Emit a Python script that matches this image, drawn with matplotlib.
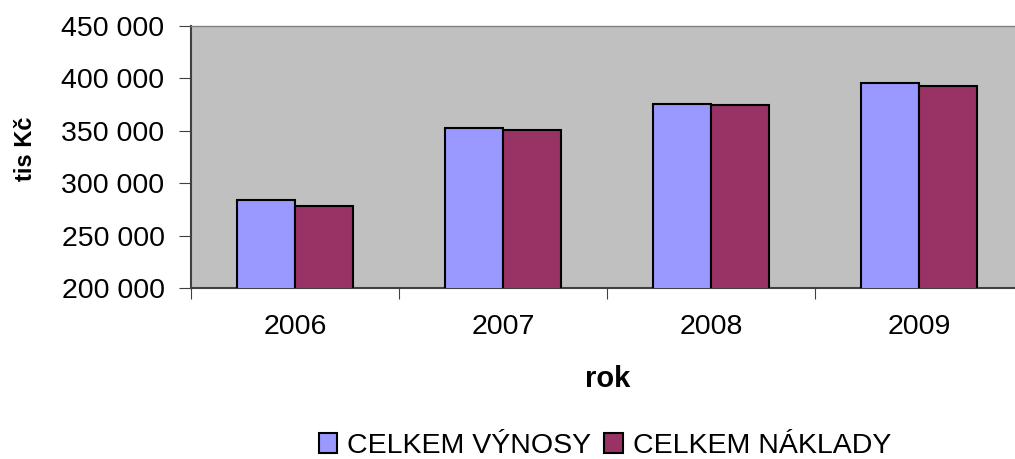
import matplotlib.pyplot as plt
import numpy as np
from matplotlib.ticker import FuncFormatter, FixedLocator

years = ["2006", "2007", "2008", "2009"]
vynosy = [283700, 352700, 375300, 395900]
naklady = [278000, 350700, 375000, 392500]

plt.rcParams['font.family'] = ['Liberation Sans', 'DejaVu Sans']

fig = plt.figure(figsize=(10.15, 4.59), dpi=100)
ax = fig.add_axes([191/1015, 1 - 288/459, 832/1015, 262/459])
ax.set_facecolor('#c0c0c0')

x = np.arange(len(years))
w = 0.28
ax.bar(x - w/2, vynosy, w, color='#9999ff', edgecolor='black', linewidth=1.5,
       label='CELKEM VÝNOSY', zorder=3)
ax.bar(x + w/2, naklady, w, color='#993366', edgecolor='black', linewidth=1.5,
       label='CELKEM NÁKLADY', zorder=3)

ax.set_xlim(-0.5, 3.5)
ax.set_ylim(200000, 450000)
ax.set_yticks(np.arange(200000, 450001, 50000))
ax.yaxis.set_major_formatter(FuncFormatter(lambda v, p: f"{int(v):,}".replace(",", " ")))
ax.xaxis.set_major_locator(FixedLocator([-0.5, 0.5, 1.5, 2.5, 3.5]))
ax.xaxis.set_major_formatter(FuncFormatter(lambda v, p: ""))
ax.xaxis.set_minor_locator(FixedLocator(x))
ax.set_xticklabels(years, minor=True)
ax.tick_params(axis='x', which='minor', length=0, labelsize=20.5, pad=19)
ax.tick_params(axis='x', which='major', length=8, direction='out', color='#404040')
ax.tick_params(axis='y', length=9, direction='out', labelsize=20.5, pad=10, color='#404040')

for s in ['top', 'right']:
    ax.spines[s].set_color('#808080')
    ax.spines[s].set_linewidth(1)
for s in ['left', 'bottom']:
    ax.spines[s].set_color('#404040')
    ax.spines[s].set_linewidth(1.5)

fig.text(26/1015, 1 - 149/459, 'tis Kč', fontsize=17, fontweight='bold',
         rotation=90, ha='center', va='center')
fig.text(608/1015, 1 - 379/459, 'rok', fontsize=21, fontweight='bold',
         ha='center', va='center')

fig.legend(loc='center', bbox_to_anchor=(605/1015, 1 - 446/459), ncol=2, frameon=False,
           fontsize=20.5, handlelength=0.65, handleheight=0.65, handletextpad=0.35,
           columnspacing=0.45, borderpad=0)

fig.savefig('out.png', dpi=100)
